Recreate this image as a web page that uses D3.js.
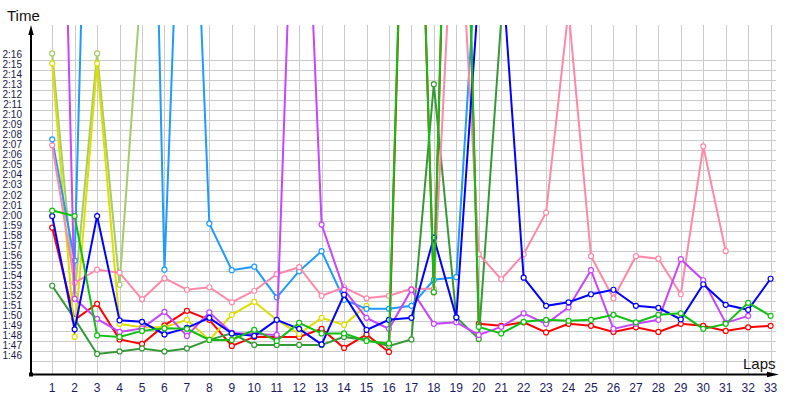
<!DOCTYPE html>
<html><head><meta charset="utf-8">
<script src="https://cdn.jsdelivr.net/npm/d3@7"></script>
<style>body{margin:0;background:#fff} svg{display:block}</style>
</head><body>
<svg id="c" width="800" height="400"></svg>
<script>
const laps = [1,2,3,4,5,6,7,8,9,10,11,12,13,14,15,16,17,18,19,20,21,22,23,24,25,26,27,28,29,30,31,32,33];
const yTickLabels = ["1:46","1:47","1:48","1:49","1:50","1:51","1:52","1:53","1:54","1:55","1:56","1:57","1:58","1:59","2:00","2:01","2:02","2:03","2:04","2:05","2:06","2:07","2:08","2:09","2:10","2:11","2:12","2:13","2:14","2:15","2:16"];

// lap times in seconds (null = no lap)
const red = [119.3,110.1,111.7,108.15,107.7,109.55,111.0,110.1,107.5,108.4,108.4,108.4,109.2,107.3,108.65,106.9,185,112.85,194,109.7,109.5,109.85,108.85,109.7,109.5,108.9,109.35,108.9,109.7,109.5,109.0,109.35,109.5];
const blue = [120.45,109.15,120.45,110.05,109.9,108.65,109.3,110.3,108.75,108.5,110.1,109.2,107.65,112.6,109.1,110.1,110.3,118.3,110.35,143,146.3,114.3,111.5,111.85,112.65,113.1,111.5,111.3,110.15,113.65,111.6,111.1,114.2];
const green = [121.0,120.45,108.55,108.4,109.0,109.25,109.2,108.1,108.1,109.1,108.0,109.8,108.75,108.75,108.0,107.75,186,112.85,196,109.4,108.75,109.9,110.1,110.0,110.1,110.6,109.85,110.6,110.75,109.2,109.7,111.8,110.5];
const darkGreen = [113.5,110.2,106.7,106.95,107.25,106.95,107.25,108.1,108.75,107.6,107.6,107.6,107.6,108.4,108.1,107.5,108.15,133.6,110.35,108.2,140];
const yellow = [135.67,108.4,135.67,109.7,109.35,109.35,110.1,108.1,110.6,111.9,110.1,108.7,110.3,109.6,111.5];
const olive = [136.67,112.6,136.67,113.6,144.7];
const magenta = [203,112.2,110.2,108.9,109.25,110.9,108.5,110.85,108.8,108.7,108.6,173,119.6,113.1,110.3,109.2,113.1,109.7,109.85,108.6,109.4,110.75,109.7,111.35,115.05,109.2,109.7,110.1,116.15,114.05,109.8,110.5];
const lightBlue = [128.1,116.0,198.7,210,213,115.1,175,119.7,115.05,115.4,112.35,114.95,116.95,112.1,111.2,111.2,111.5,114.1,114.35,150.2];
const pink = [127.5,113.8,115.1,114.8,112.15,114.25,113.1,113.35,111.85,113.0,114.65,115.35,112.5,113.35,112.25,112.5,113.2,113.2,157.5,116.65,114.15,116.65,120.8,141,116.45,112.25,116.45,116.2,112.65,127.4,116.95];

const series = [
  {values: red, color: "#ff0000"},
  {values: darkGreen, color: "#359a35"},
  {values: olive, color: "#a5cc6a"},
  {values: yellow, color: "#dede00"},
  {values: lightBlue, color: "#1e9bff"},
  {values: pink, color: "#ff88aa"},
  {values: magenta, color: "#c844ff"},
  {values: blue, color: "#0000ff"},
  {values: green, color: "#10c010"}
];

const svg = d3.select("#c");
svg.append("rect").attr("width",800).attr("height",400).attr("fill","#fff");

const x = d3.scaleLinear().domain([1,33]).range([52.2,770.6]);
const y = d3.scaleLinear().domain([104.65,139.5]).range([374.5,25]);
const parseT = s => { const [m,ss] = s.split(":"); return (+m)*60 + (+ss); };
const yTicks = yTickLabels.map(parseT);

// grid
const grid = svg.append("g").attr("stroke","#cbcbcb").attr("stroke-width",1).attr("shape-rendering","crispEdges");
grid.selectAll("line.v").data(laps).join("line").attr("class","v")
  .attr("x1",d=>Math.round(x(d))+0.5).attr("x2",d=>Math.round(x(d))+0.5).attr("y1",25).attr("y2",374);
grid.selectAll("line.h").data(yTicks).join("line").attr("class","h")
  .attr("x1",31).attr("x2",776).attr("y1",d=>Math.round(y(d))+0.5).attr("y2",d=>Math.round(y(d))+0.5);

// y labels
svg.append("g").selectAll("text").data(yTickLabels).join("text")
  .attr("x",22).attr("y",d=>y(parseT(d))-2).attr("text-anchor","end")
  .attr("font-family","Liberation Sans, Arial, sans-serif").attr("font-size",10)
  .attr("fill","#1a1a4a").text(d=>d);

// x labels
svg.append("g").selectAll("text").data(laps).join("text")
  .attr("x",d=>x(d)).attr("y",392).attr("text-anchor","middle")
  .attr("font-family","Liberation Sans, Arial, sans-serif").attr("font-size",12)
  .attr("fill","#1c1c5c").text(d=>d);

// axes
svg.append("line").attr("x1",31).attr("x2",31).attr("y1",375.5).attr("y2",32).attr("stroke","#000").attr("stroke-width",2);
svg.append("line").attr("x1",30).attr("x2",770).attr("y1",374.5).attr("y2",374.5).attr("stroke","#000").attr("stroke-width",2);
svg.append("path").attr("d","M31,25 L28.3,35 L33.7,35 Z").attr("fill","#000");
svg.append("path").attr("d","M779,374.5 L767,371.8 L767,377.2 Z").attr("fill","#000");
svg.append("rect").attr("x",29).attr("y",372.5).attr("width",4).attr("height",4).attr("fill","#000");

svg.append("text").attr("x",7).attr("y",21).attr("font-family","Liberation Sans, Arial, sans-serif")
  .attr("font-size",15).attr("fill","#111").text("Time");
svg.append("text").attr("x",743).attr("y",369).attr("font-family","Liberation Sans, Arial, sans-serif")
  .attr("font-size",15).attr("fill","#111").text("Laps");

// plot
svg.append("clipPath").attr("id","clip").append("rect").attr("x",32).attr("y",25).attr("width",746).attr("height",349);
const plot = svg.append("g").attr("clip-path","url(#clip)");
const line = d3.line().defined(d=>d[1]!=null).x(d=>x(d[0])).y(d=>y(d[1]));
series.forEach(s => {
  const pts = s.values.map((v,i)=>[laps[i],v]);
  plot.append("path").datum(pts).attr("d",line).attr("fill","none")
    .attr("stroke",s.color).attr("stroke-width",2).attr("stroke-miterlimit",10);
  plot.append("g").selectAll("circle").data(pts.filter(p=>p[1]!=null)).join("circle")
    .attr("cx",d=>x(d[0])).attr("cy",d=>y(d[1])).attr("r",2.5)
    .attr("fill","#fff").attr("stroke",s.color).attr("stroke-width",1.2);
});
</script>
</body></html>
